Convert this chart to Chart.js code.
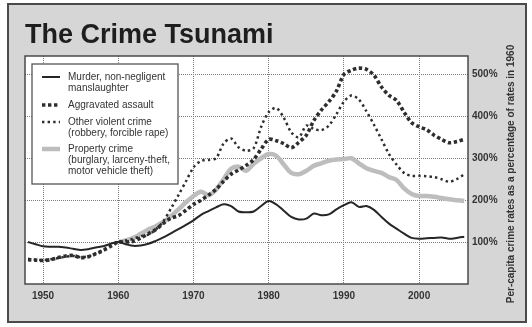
<!DOCTYPE html>
<html>
<head>
<meta charset="utf-8">
<title>The Crime Tsunami</title>
<script src="https://cdn.jsdelivr.net/npm/chart.js@4.4.1/dist/chart.umd.min.js"></script>
<style>
  html, body { margin: 0; padding: 0; background: #fff; }
  canvas { display: block; }
</style>
</head>
<body>
<canvas id="crimeChart" width="532" height="327"></canvas>
<script>
// Rates as % of 1960 level, one value per year from firstYear
const firstYear = 1948;
const murder = [
  100, 95, 90, 89, 89, 87, 84, 81, 83, 87,
  90, 96, 100, 95, 91, 92, 96, 103, 111, 121,
  131, 141, 152, 165, 174, 183, 190, 186, 173, 171,
  173, 186, 198, 190, 175, 160, 154, 156, 168, 164,
  166, 178, 188, 195, 184, 186, 177, 160, 144, 132,
  120, 110, 108, 109, 110, 111, 108, 110, 113
];
const assault = [
  58, 57, 56, 58, 63, 67, 68, 63, 65, 72,
  80, 90, 100, 100, 102, 110, 120, 130, 145, 157,
  163, 176, 190, 200, 212, 226, 245, 262, 272, 283,
  297, 322, 345, 342, 335, 325, 338, 355, 390, 415,
  435, 460, 500, 510, 515, 512, 498, 470, 450, 438,
  410, 385, 375, 368, 355, 345, 337, 340, 345
];
const otherViolent = [
  60, 58, 57, 59, 62, 65, 67, 64, 66, 73,
  82, 92, 100, 104, 108, 114, 118, 130, 150, 180,
  212, 245, 278, 294, 296, 300, 335, 347, 326, 318,
  324, 375, 410, 420, 397, 362, 350, 378, 370, 367,
  378, 405, 435, 450, 440, 412, 380, 345, 310, 285,
  265, 258, 258, 257, 255, 250, 244, 250, 262
];
// property crime series begins in 1960
const property = [
  null, null, null, null, null, null, null, null, null, null,
  null, null, 100, 104, 110, 120, 130, 138, 148, 162,
  178, 195, 210, 220, 212, 225, 250, 275, 280, 270,
  287, 300, 310, 306, 285, 265, 262, 270, 282, 288,
  294, 297, 298, 300, 288, 276, 270, 265, 255, 248,
  228, 215, 210, 210, 208, 205, 202, 200, 198
];
const xTicks = [1950, 1960, 1970, 1980, 1990, 2000];
const yTicks = [100, 200, 300, 400, 500];

const titleText = 'The Crime Tsunami';
const axisTitle = 'Per-capita crime rates as a percentage of rates in 1960';
const legendItems = [
  { lines: ['Murder, non-negligent', 'manslaughter'], kind: 'murder' },
  { lines: ['Aggravated assault'], kind: 'assault' },
  { lines: ['Other violent crime', '(robbery, forcible rape)'], kind: 'other' },
  { lines: ['Property crime', '(burglary, larceny-theft,', 'motor vehicle theft)'], kind: 'property' }
];

const FONT = '"Liberation Sans", Arial, Helvetica, sans-serif';

function toPoints(values) {
  return values.map((v, i) => ({ x: firstYear + i, y: v }));
}

const styles = {
  murder:   { color: '#262626', width: 2, dash: [] },
  assault:  { color: '#2e2e2e', width: 3.6, dash: [3.4, 2.6] },
  other:    { color: '#2e2e2e', width: 2.5, dash: [2.4, 3.2] },
  property: { color: '#bdbdbd', width: 4.5, dash: [] }
};

// panel, plot background, title and rotated axis title
const backdrop = {
  id: 'backdrop',
  beforeDraw(chart) {
    const { ctx, chartArea: a } = chart;
    ctx.save();
    ctx.fillStyle = '#d6d6d6';
    ctx.fillRect(8, 4, 518, 318);
    ctx.strokeStyle = '#4a4a4a';
    ctx.lineWidth = 2;
    ctx.strokeRect(8, 4, 518, 318);

    ctx.fillStyle = '#fff';
    ctx.fillRect(a.left, a.top, a.right - a.left, a.bottom - a.top);

    ctx.fillStyle = '#1e1e1e';
    ctx.font = 'bold 27px ' + FONT;
    ctx.textBaseline = 'alphabetic';
    ctx.textAlign = 'left';
    ctx.fillText(titleText, 25, 43);

    ctx.fillStyle = '#333';
    ctx.font = 'bold 10px ' + FONT;
    ctx.translate(511, 174);
    ctx.rotate(-Math.PI / 2);
    ctx.textAlign = 'center';
    ctx.textBaseline = 'middle';
    ctx.fillText(axisTitle, 0, 0);
    ctx.restore();
  },
  afterDraw(chart) {
    const { ctx, chartArea: a } = chart;
    ctx.save();
    // plot frame
    ctx.strokeStyle = '#4a4a4a';
    ctx.lineWidth = 1.5;
    ctx.strokeRect(a.left, a.top, a.right - a.left, a.bottom - a.top);

    // legend box
    const bx = 32, by = 64, bw = 146, bh = 120;
    ctx.fillStyle = '#fff';
    ctx.fillRect(bx, by, bw, bh);
    ctx.strokeStyle = '#555';
    ctx.lineWidth = 1.3;
    ctx.strokeRect(bx, by, bw, bh);

    ctx.font = '10px ' + FONT;
    ctx.textAlign = 'left';
    ctx.textBaseline = 'middle';
    const rowY = [77, 105, 122, 149];
    legendItems.forEach((item, i) => {
      const s = styles[item.kind];
      const y = rowY[i];
      ctx.beginPath();
      ctx.strokeStyle = s.color;
      ctx.lineWidth = s.width;
      ctx.setLineDash(s.dash);
      ctx.moveTo(42, y);
      ctx.lineTo(60, y);
      ctx.stroke();
      ctx.setLineDash([]);
      ctx.fillStyle = '#333';
      item.lines.forEach((t, j) => ctx.fillText(t, 68, y + j * 11.3));
    });
    ctx.restore();
  }
};

function series(label, values, kind, order) {
  const s = styles[kind];
  return {
    label: label,
    data: toPoints(values),
    borderColor: s.color,
    borderWidth: s.width,
    borderDash: s.dash,
    borderCapStyle: 'butt',
    pointRadius: 0,
    tension: 0.3,
    fill: false,
    order: order
  };
}

const ctx = document.getElementById('crimeChart').getContext('2d');
new Chart(ctx, {
  type: 'line',
  data: {
    datasets: [
      series('Murder, non-negligent manslaughter', murder, 'murder', 0),
      series('Aggravated assault', assault, 'assault', 1),
      series('Other violent crime', otherViolent, 'other', 2),
      series('Property crime', property, 'property', 3)
    ]
  },
  options: {
    responsive: false,
    animation: false,
    events: [],
    layout: { padding: { left: 25, top: 56, right: 4, bottom: 3 } },
    plugins: {
      legend: { display: false },
      title: { display: false },
      tooltip: { enabled: false }
    },
    scales: {
      x: {
        type: 'linear',
        min: 1947.6,
        max: 2006.5,
        afterFit: (scale) => { scale.height = 40; },
        afterBuildTicks: (scale) => { scale.ticks = xTicks.map(v => ({ value: v })); },
        grid: { color: '#7a7a7a', lineWidth: 1, drawTicks: false },
        border: { display: false, dash: [1, 1] },
        ticks: {
          padding: 6,
          color: '#333',
          font: { family: FONT, size: 10, weight: 'bold' },
          callback: (v) => String(v),
          maxRotation: 0,
          autoSkip: false
        }
      },
      y: {
        position: 'right',
        min: 0,
        max: 544,
        afterFit: (scale) => { scale.width = 60; },
        afterBuildTicks: (scale) => { scale.ticks = yTicks.map(v => ({ value: v })); },
        grid: { color: '#7a7a7a', lineWidth: 1, drawTicks: false },
        border: { display: false, dash: [1, 1] },
        ticks: {
          padding: 4,
          color: '#333',
          font: { family: FONT, size: 10, weight: 'bold' },
          callback: (v) => v + '%',
          autoSkip: false
        }
      }
    }
  },
  plugins: [backdrop]
});
</script>
</body>
</html>
